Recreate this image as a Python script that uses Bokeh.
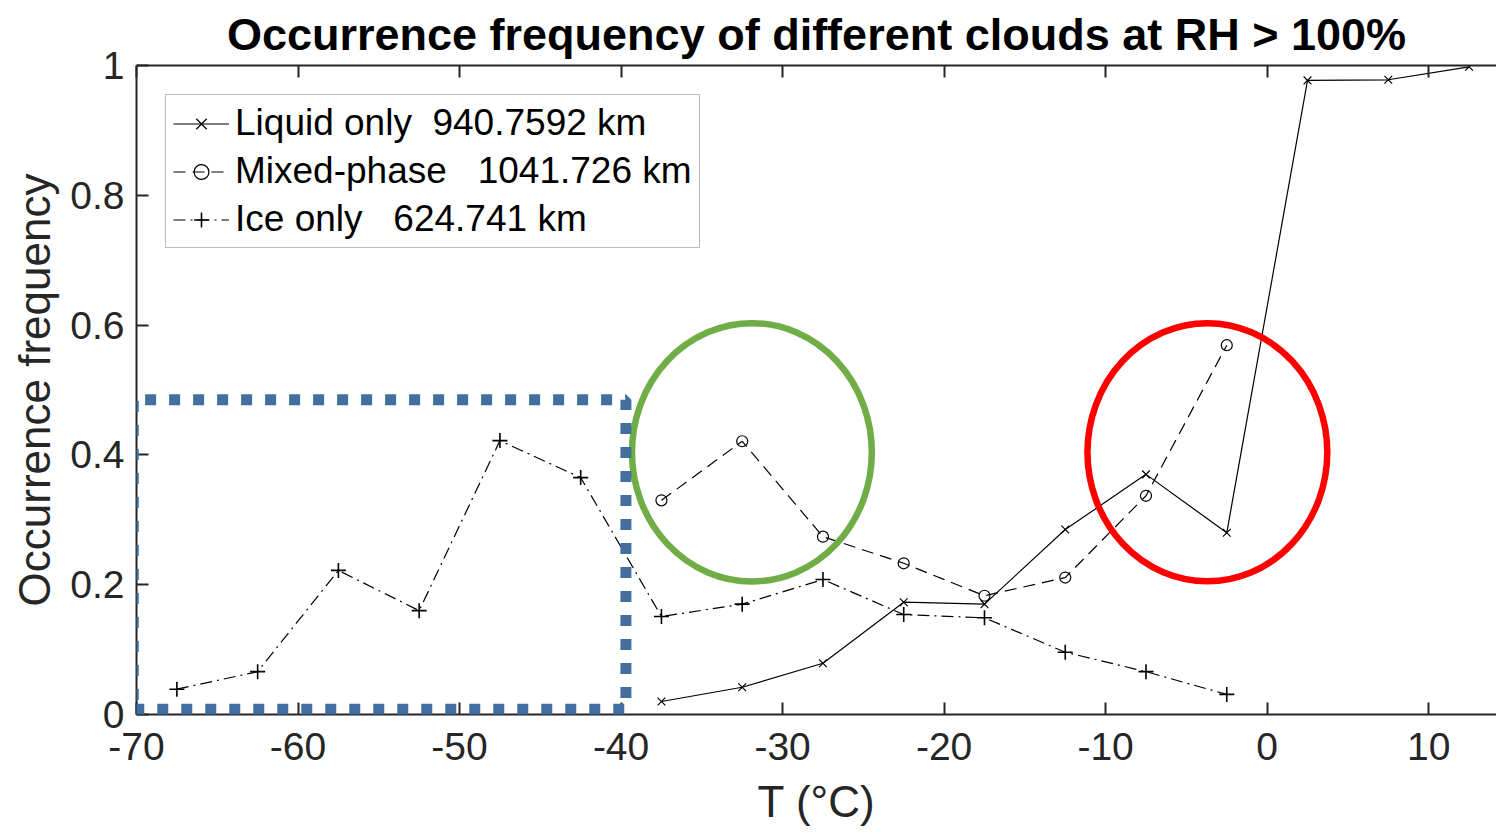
from bokeh.plotting import figure
from bokeh.models import LinearAxis, Legend, LegendItem, FixedTicker, PolyAnnotation, Range1d
from bokeh.embed import file_html
from bokeh.resources import INLINE

# ---- data ----
liquid_T = [-37.5, -32.5, -27.5, -22.5, -17.5, -12.5, -7.5, -2.5, 2.5, 7.5, 12.5]
liquid_f = [0.020, 0.042, 0.079, 0.173, 0.170, 0.285, 0.370, 0.280, 0.977, 0.978, 0.998]

mixed_T = [-37.5, -32.5, -27.5, -22.5, -17.5, -12.5, -7.5, -2.5]
mixed_f = [0.330, 0.421, 0.274, 0.233, 0.183, 0.211, 0.337, 0.569]

ice_T = [-67.5, -62.5, -57.5, -52.5, -47.5, -42.5, -37.5, -32.5, -27.5, -22.5, -17.5, -12.5, -7.5, -2.5]
ice_f = [0.039, 0.066, 0.222, 0.160, 0.422, 0.365, 0.151, 0.170, 0.208, 0.154, 0.149, 0.096, 0.066, 0.031]

labels = ["Liquid only  940.7592 km", "Mixed-phase   1041.726 km", "Ice only   624.741 km"]
x_ticks = [-70, -60, -50, -40, -30, -20, -10, 0, 10]
x_tick_labels = ["-70", "-60", "-50", "-40", "-30", "-20", "-10", "0", "10"]
y_ticks = [0, 0.2, 0.4, 0.6, 0.8, 1]
y_tick_labels = ["0", "0.2", "0.4", "0.6", "0.8", "1"]

# highlight annotations (data coords)
box_x = [-70.2, -39.7, -39.7, -70.2]
box_y = [0.008, 0.008, 0.485, 0.485]
ell_x = [-31.9, -3.7]
ell_y = [0.404, 0.404]
ell_w = 14.85
ell_h = 0.398

FONT = "Liberation Sans"
DARK = "#262626"

p = figure(width=1496, height=834, output_backend="svg", toolbar_location=None,
           x_range=Range1d(-70, 14.2), y_range=Range1d(0, 1),
           min_border_left=136, min_border_right=0, min_border_top=65, min_border_bottom=120,
           title="Occurrence frequency of different clouds at RH > 100%")
p.outline_line_color = None
p.background_fill_color = "white"
p.border_fill_color = "white"
p.grid.visible = False

p.title.text_font = FONT
p.title.text_font_size = "45px"
p.title.text_font_style = "bold"
p.title.text_color = "black"
p.title.align = "center"
p.title.vertical_align = "top"
p.title.offset = 6
p.title.standoff = 8

for ax in (p.xaxis[0], p.yaxis[0]):
    ax.major_label_text_font = FONT
    ax.major_label_text_font_size = "39px"
    ax.major_label_text_color = DARK
    ax.axis_label_text_font = FONT
    ax.axis_label_text_font_size = "44px"
    ax.axis_label_text_font_style = "normal"
    ax.axis_label_text_color = DARK
    ax.axis_line_color = DARK
    ax.axis_line_width = 2
    ax.major_tick_line_color = DARK
    ax.major_tick_line_width = 2
    ax.major_tick_in = 12
    ax.major_tick_out = 0
    ax.minor_tick_line_color = None

p.xaxis[0].ticker = FixedTicker(ticks=x_ticks)
p.xaxis[0].major_label_overrides = {t: s for t, s in zip(x_ticks, x_tick_labels)}
p.xaxis[0].axis_label = "T (°C)"
p.xaxis[0].major_label_standoff = 18
p.xaxis[0].axis_label_standoff = 14

p.yaxis[0].ticker = FixedTicker(ticks=y_ticks)
p.yaxis[0].major_label_overrides = {t: s for t, s in zip(y_ticks, y_tick_labels)}
p.yaxis[0].axis_label = "Occurrence frequency"
p.yaxis[0].major_label_standoff = 12
p.yaxis[0].axis_label_standoff = 8

top = LinearAxis(ticker=FixedTicker(ticks=x_ticks), major_label_text_font_size="0px",
                 axis_line_color=DARK, axis_line_width=2, major_tick_line_color=DARK,
                 major_tick_line_width=2, major_tick_in=12, major_tick_out=0,
                 minor_tick_line_color=None, major_label_standoff=0)
top.major_label_text_color = None
p.add_layout(top, "above")

# series
l1 = p.line(liquid_T, liquid_f, line_color="black", line_width=1.2)
m1 = p.scatter(liquid_T, liquid_f, marker="x", size=11, line_color="black", line_width=1.2)

l2 = p.line(mixed_T, mixed_f, line_color="black", line_width=1.2, line_dash="12 7")
m2 = p.scatter(mixed_T, mixed_f, marker="circle", size=11, line_color="black",
               fill_color=None, line_width=1.2)

l3 = p.line(ice_T, ice_f, line_color="black", line_width=1.2, line_dash="12 5 2 5")
m3 = p.scatter(ice_T, ice_f, marker="cross", size=15, line_color="black", line_width=1.6)

# highlights
p.ellipse(x=ell_x[:1], y=ell_y[:1], width=ell_w, height=ell_h, fill_color=None,
          line_color="#70AD47", line_width=6.5)
p.ellipse(x=ell_x[1:], y=ell_y[1:], width=ell_w, height=ell_h, fill_color=None,
          line_color="#FF0000", line_width=6.5)
p.add_layout(PolyAnnotation(xs=box_x, ys=box_y, fill_alpha=0, fill_color=None,
                            line_color="#41709E", line_alpha=1.0, line_width=11,
                            line_dash="11 13"))

legend = Legend(items=[LegendItem(label=labels[0], renderers=[l1, m1]),
                       LegendItem(label=labels[1], renderers=[l2, m2]),
                       LegendItem(label=labels[2], renderers=[l3, m3])],
                location=(29, 466))
legend.label_text_font = FONT
legend.label_text_font_size = "37px"
legend.label_text_line_height = 1.0
legend.label_text_color = "black"
legend.glyph_width = 56
legend.glyph_height = 37
legend.label_height = 37
legend.spacing = 6
legend.padding = 7
legend.margin = 0
legend.label_standoff = 6
legend.border_line_color = "#7a7a7a"
legend.border_line_width = 1.5
legend.background_fill_alpha = 1
p.add_layout(legend, "center")

open("out.html", "w").write(file_html(p, INLINE))
